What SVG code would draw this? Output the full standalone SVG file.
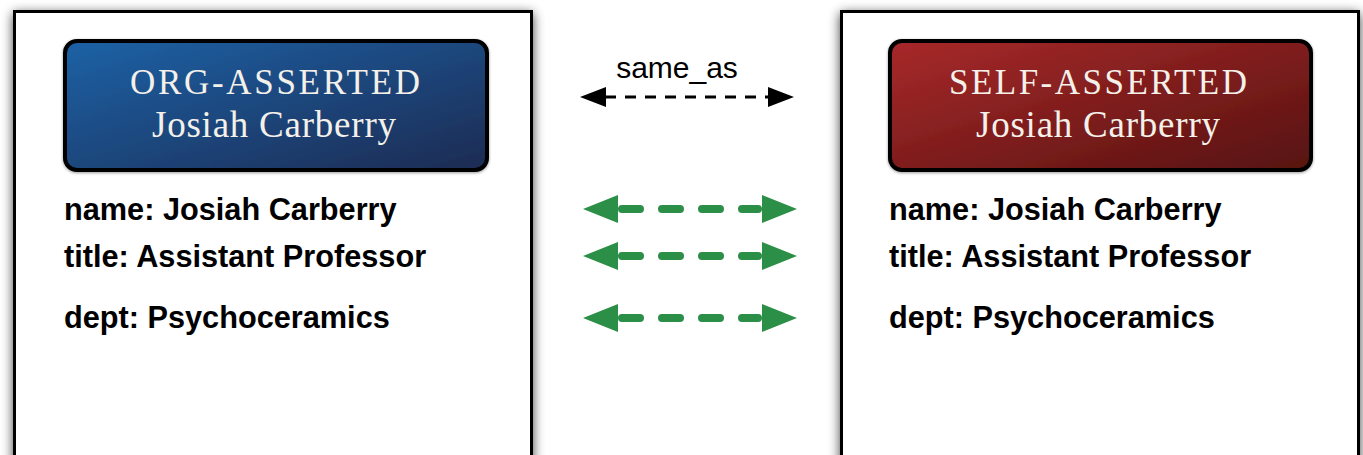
<svg xmlns="http://www.w3.org/2000/svg" width="1363" height="455" viewBox="0 0 1363 455">
  <style>
    .panel { fill: #ffffff; stroke: #000000; stroke-width: 3; }
    .badge { stroke: #000000; stroke-width: 4; }
    .badge-text { font-family: "Liberation Serif", "Times New Roman", serif; fill: #f4f0ea; text-anchor: middle; }
    .field { font-family: "Liberation Sans", Arial, sans-serif; font-weight: bold; font-size: 30.7px; fill: #000000; }
    .label { font-family: "Liberation Sans", Arial, sans-serif; font-size: 30px; fill: #000000; text-anchor: middle; }
    .green-line { fill: none; stroke: #2b8f47; stroke-width: 8; stroke-linecap: round; stroke-dasharray: 18 22; }
    .green-head { fill: #2b8f47; }
    .black-line { fill: none; stroke: #000000; stroke-width: 3; stroke-dasharray: 11 9; }
    .black-head { fill: #000000; }
  </style>
  <defs>
    <filter id="shadow" x="-10%" y="-10%" width="120%" height="120%">
      <feGaussianBlur in="SourceAlpha" stdDeviation="6"/>
      <feOffset dx="0" dy="3" result="b"/>
      <feComponentTransfer><feFuncA type="linear" slope="0.75"/></feComponentTransfer>
      <feMerge><feMergeNode/><feMergeNode in="SourceGraphic"/></feMerge>
    </filter>
    <filter id="smallshadow" x="-10%" y="-10%" width="120%" height="130%">
      <feGaussianBlur in="SourceAlpha" stdDeviation="1.5"/>
      <feOffset dx="0" dy="1" result="b"/>
      <feComponentTransfer><feFuncA type="linear" slope="0.4"/></feComponentTransfer>
      <feMerge><feMergeNode/><feMergeNode in="SourceGraphic"/></feMerge>
    </filter>
    <linearGradient id="blueGrad" x1="0" y1="0" x2="1" y2="1">
      <stop offset="0" stop-color="#1a62a6"/>
      <stop offset="1" stop-color="#1b2b52"/>
    </linearGradient>
    <linearGradient id="redGrad" x1="0" y1="0" x2="1" y2="1">
      <stop offset="0" stop-color="#a8292a"/>
      <stop offset="1" stop-color="#561210"/>
    </linearGradient>
  </defs>

  <rect x="0" y="0" width="1363" height="455" fill="#ffffff"/>

  <g id="org-panel">
    <rect class="panel" x="14.5" y="11.5" width="517" height="470" filter="url(#shadow)"/>
    <g id="org-badge">
      <rect class="badge" x="65" y="41" width="422" height="129" rx="12" ry="12" fill="url(#blueGrad)" filter="url(#smallshadow)"/>
      <text class="badge-text" x="275" y="94" font-size="35" textLength="290" lengthAdjust="spacing">ORG-ASSERTED</text>
      <text class="badge-text" x="274" y="137" font-size="37" textLength="244" lengthAdjust="spacing">Josiah Carberry</text>
    </g>
    <text class="field" x="64" y="220">name: Josiah Carberry</text>
    <text class="field" x="64" y="267">title: Assistant Professor</text>
    <text class="field" x="64" y="328">dept: Psychoceramics</text>
  </g>

  <g id="self-panel">
    <rect class="panel" x="841.5" y="11.5" width="517" height="470" filter="url(#shadow)"/>
    <g id="self-badge">
      <rect class="badge" x="890" y="41" width="421" height="129" rx="12" ry="12" fill="url(#redGrad)" filter="url(#smallshadow)"/>
      <text class="badge-text" x="1098" y="94" font-size="35" textLength="298" lengthAdjust="spacing">SELF-ASSERTED</text>
      <text class="badge-text" x="1098" y="137" font-size="37" textLength="244" lengthAdjust="spacing">Josiah Carberry</text>
    </g>
    <text class="field" x="889" y="220">name: Josiah Carberry</text>
    <text class="field" x="889" y="267">title: Assistant Professor</text>
    <text class="field" x="889" y="328">dept: Psychoceramics</text>
  </g>

  <g id="connectors">
    <g id="same-as">
      <text class="label" x="677" y="78">same_as</text>
      <path class="black-line" d="M605 97 H768"/>
      <polygon class="black-head" points="580,97 606,87 606,107"/>
      <polygon class="black-head" points="794,97 768,87 768,107"/>
    </g>
    <g id="name-link">
      <path class="green-line" d="M622 209 H758"/>
      <polygon class="green-head" points="583,209 618,195 618,223"/>
      <polygon class="green-head" points="797,209 762,195 762,223"/>
    </g>
    <g id="title-link">
      <path class="green-line" d="M622 256 H758"/>
      <polygon class="green-head" points="583,256 618,242 618,270"/>
      <polygon class="green-head" points="797,256 762,242 762,270"/>
    </g>
    <g id="dept-link">
      <path class="green-line" d="M622 318 H758"/>
      <polygon class="green-head" points="583,318 618,304 618,332"/>
      <polygon class="green-head" points="797,318 762,304 762,332"/>
    </g>
  </g>
</svg>
